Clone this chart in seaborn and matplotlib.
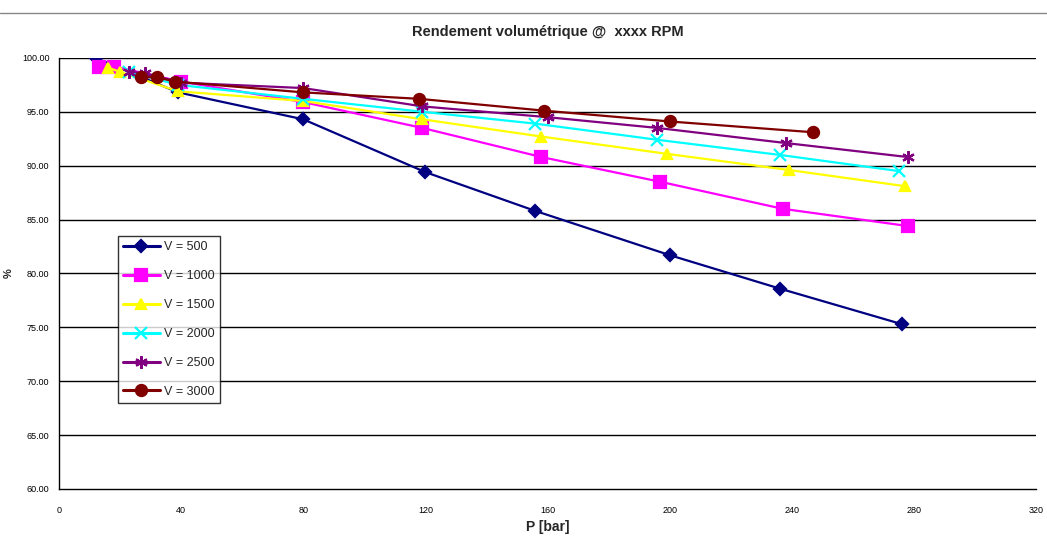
import numpy as np
import pandas as pd
import matplotlib
matplotlib.use('Agg')
import matplotlib.pyplot as plt
from matplotlib.lines import Line2D
import seaborn as sns

# Donnees
p_500 = [12, 39, 80, 120, 156, 200, 236, 276]
r_500 = [100.0, 96.8, 94.3, 89.4, 85.8, 81.7, 78.6, 75.3]

p_1000 = [13, 18, 40, 80, 119, 158, 197, 237, 278]
r_1000 = [99.2, 99.2, 97.8, 95.9, 93.5, 90.8, 88.5, 86.0, 84.4]

p_1500 = [16, 20, 39, 80, 119, 158, 199, 239, 277]
r_1500 = [99.1, 98.7, 96.9, 96.0, 94.3, 92.7, 91.1, 89.6, 88.1]

p_2000 = [23, 39, 80, 119, 156, 196, 236, 275]
r_2000 = [98.7, 97.5, 96.2, 95.0, 93.9, 92.4, 91.0, 89.5]

p_2500 = [23, 28, 40, 80, 119, 160, 196, 238, 278]
r_2500 = [98.7, 98.6, 97.7, 97.2, 95.5, 94.5, 93.5, 92.1, 90.8]

p_3000 = [27, 32, 38, 80, 118, 159, 200, 247]
r_3000 = [98.2, 98.2, 97.8, 96.8, 96.2, 95.1, 94.1, 93.1]

series = {
    'V = 500': (p_500, r_500),
    'V = 1000': (p_1000, r_1000),
    'V = 1500': (p_1500, r_1500),
    'V = 2000': (p_2000, r_2000),
    'V = 2500': (p_2500, r_2500),
    'V = 3000': (p_3000, r_3000),
}
couleurs = ['#000080', '#FF00FF', '#FFFF00', '#00FFFF', '#800080', '#800000']
marqueurs = ['D', 's', '^', 'x', (6, 2, 0), 'o']
tailles = [6, 8, 7, 8, 9, 8]

rows = []
for nom, (p, r) in series.items():
    for a, b in zip(p, r):
        rows.append((nom, a, b))
df = pd.DataFrame(rows, columns=['V', 'P', 'R'])

sns.set_style('white')
plt.rcParams['font.family'] = ['Liberation Sans', 'DejaVu Sans']

fig = plt.figure(figsize=(10.47, 5.36), dpi=100)
ax = fig.add_axes([0.0564, 0.0877, 0.9331, 0.8043])

for y in range(65, 101, 5):
    ax.axhline(y, color='black', lw=1.0, zorder=0)

handles = []
for i, nom in enumerate(series):
    sub = df[df.V == nom]
    sns.lineplot(data=sub, x='P', y='R', ax=ax, color=couleurs[i], lw=1.6,
                 marker=marqueurs[i], markersize=tailles[i],
                 markeredgecolor=couleurs[i], markeredgewidth=1.6,
                 sort=False, estimator=None, legend=False)
    handles.append(Line2D([], [], color=couleurs[i], lw=2.2, marker=marqueurs[i],
                          markersize=tailles[i], markeredgecolor=couleurs[i],
                          markeredgewidth=1.6))

ax.set_xlim(0, 320)
ax.set_ylim(60, 100)
ax.set_xticks(range(0, 321, 40))
ax.set_yticks(range(60, 101, 5))
ax.set_yticklabels(['%.2f' % v for v in range(60, 101, 5)])

for s in ['top', 'right']:
    ax.spines[s].set_visible(False)
for s in ['left', 'bottom']:
    ax.spines[s].set_color('black')
    ax.spines[s].set_linewidth(1.0)

ax.tick_params(axis='both', direction='out', length=4, width=1, colors='black',
               labelsize=6.5, pad=3)
ax.tick_params(axis='x', pad=8)

ax.set_xlabel('P [bar]', fontsize=10, fontweight='bold', labelpad=4)
ax.set_ylabel('%', fontsize=8, fontweight='bold', labelpad=6)
ax.set_title('Rendement volumétrique @  xxxx RPM', fontsize=10.5, fontweight='bold', pad=16)

leg = ax.legend(handles, list(series.keys()), loc='lower left', bbox_to_anchor=(0.06, 0.2),
                frameon=True, fancybox=False, edgecolor='black', fontsize=9,
                handlelength=3.0, handletextpad=0.3, labelspacing=1.35,
                borderpad=0.4, borderaxespad=0)
leg.get_frame().set_linewidth(1.0)

fig.add_artist(Line2D([0, 1], [1 - 13 / 536, 1 - 13 / 536], transform=fig.transFigure,
                      color='#888888', lw=1.0))

fig.savefig('out.png', dpi=100)
